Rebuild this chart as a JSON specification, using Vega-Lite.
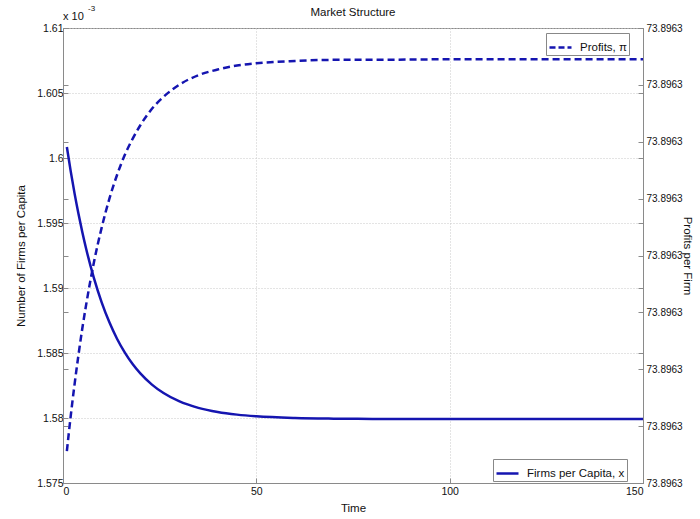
{
  "$schema": "https://vega.github.io/schema/vega-lite/v6.json",
  "width": 580,
  "height": 455,
  "autosize": {"type": "none"},
  "padding": {"left": 63, "top": 28, "right": 57, "bottom": 36},
  "background": "white",
  "title": {"text": "Market Structure", "fontSize": 11.5, "fontWeight": "normal", "font": "Liberation Sans", "color": "#111", "offset": -13},
  "config": {
    "font": "Liberation Sans",
    "view": {"stroke": "#8a8a8a", "strokeWidth": 1},
    "axis": {
      "domainColor": "#8a8a8a", "tickColor": "#8a8a8a", "labelColor": "#111", "titleColor": "#111",
      "labelFont": "Liberation Sans", "titleFont": "Liberation Sans",
      "labelFontSize": 10.5, "titleFontSize": 11.5, "titleFontWeight": "normal",
      "gridColor": "#c8c8c8", "gridDash": [1, 2], "tickSize": -5, "labelPadding": 5
    },
    "legend": {
      "strokeColor": "#888", "fillColor": "white", "padding": 2, "symbolType": "stroke",
      "symbolStrokeWidth": 2.5, "symbolSize": 484, "labelFontSize": 11.5, "labelColor": "#111",
      "labelFont": "Liberation Sans", "labelOffset": 7
    }
  },
  "data": {"values": [
    {"t": 1, "firms": 1.60085, "profits": 73.8962656},
    {"t": 2, "firms": 1.59897, "profits": 73.8962718},
    {"t": 3, "firms": 1.59726, "profits": 73.8962774},
    {"t": 4, "firms": 1.59571, "profits": 73.8962825},
    {"t": 5, "firms": 1.59429, "profits": 73.8962872},
    {"t": 6, "firms": 1.59300, "profits": 73.8962914},
    {"t": 8, "firms": 1.59076, "profits": 73.8962988},
    {"t": 10, "firms": 1.58890, "profits": 73.8963049},
    {"t": 12, "firms": 1.58736, "profits": 73.8963100},
    {"t": 14, "firms": 1.58608, "profits": 73.8963142},
    {"t": 16, "firms": 1.58503, "profits": 73.8963177},
    {"t": 18, "firms": 1.58415, "profits": 73.8963205},
    {"t": 20, "firms": 1.58343, "profits": 73.8963229},
    {"t": 23, "firms": 1.58257, "profits": 73.8963258},
    {"t": 26, "firms": 1.58192, "profits": 73.8963279},
    {"t": 30, "firms": 1.58129, "profits": 73.8963300},
    {"t": 35, "firms": 1.58078, "profits": 73.8963317},
    {"t": 40, "firms": 1.58046, "profits": 73.8963327},
    {"t": 45, "firms": 1.58026, "profits": 73.8963334},
    {"t": 50, "firms": 1.58013, "profits": 73.8963338},
    {"t": 60, "firms": 1.58000, "profits": 73.8963342},
    {"t": 70, "firms": 1.57995, "profits": 73.8963344},
    {"t": 80, "firms": 1.57993, "profits": 73.8963344},
    {"t": 100, "firms": 1.57992, "profits": 73.8963345},
    {"t": 120, "firms": 1.57992, "profits": 73.8963345},
    {"t": 150, "firms": 1.57992, "profits": 73.8963345}
  ]},
  "layer": [
    {
      "mark": {"type": "line", "strokeWidth": 2.5, "interpolate": "monotone", "clip": true},
      "encoding": {
        "x": {"field": "t", "type": "quantitative", "scale": {"domain": [0, 150], "nice": false},
              "axis": {"values": [0, 50, 100, 150], "title": "Time", "grid": true, "labelPadding": 8, "titlePadding": 6}},
        "y": {"field": "firms", "type": "quantitative", "scale": {"domain": [1.575, 1.61], "zero": false, "nice": false},
              "axis": {"orient": "left", "values": [1.575, 1.58, 1.585, 1.59, 1.595, 1.6, 1.605, 1.61], "format": ".3~f",
                       "title": "Number of Firms per Capita", "grid": true, "titlePadding": 10}},
        "color": {"datum": "Firms per Capita, x", "type": "nominal", "scale": {"range": ["#1515b0"]},
                  "legend": {"orient": "none", "legendX": 430, "legendY": 431, "title": null}}
      }
    },
    {
      "mark": {"type": "line", "strokeWidth": 2.5, "strokeDash": [7, 4], "interpolate": "monotone", "clip": true},
      "encoding": {
        "x": {"field": "t", "type": "quantitative", "scale": {"domain": [0, 150], "nice": false}},
        "y": {"field": "profits", "type": "quantitative", "scale": {"domain": [73.89626, 73.89634], "zero": false, "nice": false},
              "axis": {"orient": "right", "values": [73.89626, 73.89627, 73.89628, 73.89629, 73.8963, 73.89631, 73.89632, 73.89633, 73.89634],
                       "format": ".4f", "title": "Profits per Firm", "grid": false, "labelFontSize": 10, "labelPadding": 8, "titlePadding": -1}},
        "color": {"datum": "Profits, π", "type": "nominal", "scale": {"range": ["#1515b0"]},
                  "legend": {"orient": "none", "legendX": 483, "legendY": 5, "title": null, "symbolDash": [6, 3]}}
      }
    },
    {
      "mark": {"type": "line", "strokeOpacity": 0},
      "encoding": {
        "x": {"field": "t", "type": "quantitative", "scale": {"domain": [0, 150], "nice": false}},
        "y": {"field": "firms", "type": "quantitative", "scale": {"domain": [1.575, 1.61], "zero": false, "nice": false},
              "axis": {"orient": "right", "values": [1.575, 1.58, 1.585, 1.59, 1.595, 1.6, 1.605, 1.61], "labels": false,
                       "domain": false, "grid": false, "title": null}}
      }
    },
    {
      "mark": {"type": "line", "strokeOpacity": 0},
      "encoding": {
        "x": {"field": "t", "type": "quantitative", "scale": {"domain": [0, 150], "nice": false}},
        "y": {"field": "profits", "type": "quantitative", "scale": {"domain": [73.89626, 73.89634], "zero": false, "nice": false},
              "axis": {"orient": "left", "values": [73.89626, 73.89627, 73.89628, 73.89629, 73.8963, 73.89631, 73.89632, 73.89633, 73.89634],
                       "labels": false, "domain": false, "grid": false, "title": null}}
      }
    },
    {
      "data": {"values": [{"label": "x 10"}]},
      "mark": {"type": "text", "align": "left", "baseline": "middle", "dy": -11, "fontSize": 11, "color": "#111"},
      "encoding": {
        "text": {"field": "label"},
        "x": {"datum": 0, "type": "quantitative", "scale": {"domain": [0, 150], "nice": false}},
        "y": {"datum": 1.61, "type": "quantitative", "scale": {"domain": [1.575, 1.61], "zero": false, "nice": false}, "axis": null}
      }
    },
    {
      "data": {"values": [{"label": "-3"}]},
      "mark": {"type": "text", "align": "left", "baseline": "middle", "dx": 25, "dy": -19, "fontSize": 8, "color": "#111"},
      "encoding": {
        "text": {"field": "label"},
        "x": {"datum": 0, "type": "quantitative", "scale": {"domain": [0, 150], "nice": false}},
        "y": {"datum": 1.61, "type": "quantitative", "scale": {"domain": [1.575, 1.61], "zero": false, "nice": false}, "axis": null}
      }
    }
  ],
  "resolve": {"scale": {"y": "independent", "color": "independent"}, "axis": {"y": "independent"}, "legend": {"color": "independent"}}
}
